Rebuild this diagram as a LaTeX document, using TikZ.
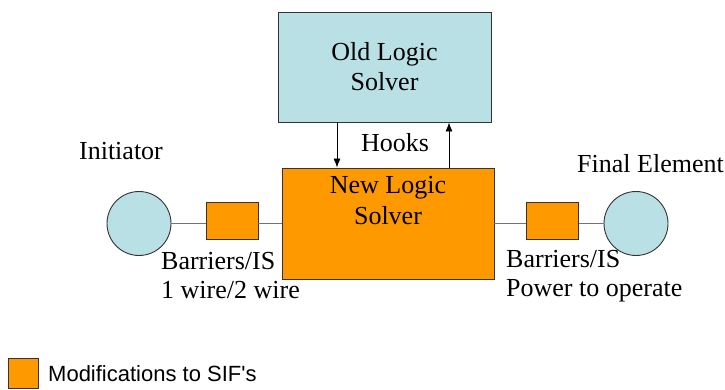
\documentclass[tikz,border=0pt]{standalone}
\usepackage{fontspec}
\setmainfont{Liberation Serif}
\setsansfont{Liberation Sans}
\usetikzlibrary{shapes,arrows,arrows.meta,positioning,calc}
\definecolor{solverblue}{RGB}{185,224,228}
\definecolor{modorange}{RGB}{255,153,0}
\tikzset{solver node/.style={rectangle,draw=black!80,line width=0.9pt,fill=solverblue,minimum width=213pt,minimum height=110pt,inner sep=0pt,align=center},
  new node/.style={rectangle,draw=black!80,line width=0.9pt,fill=modorange,minimum width=212pt,minimum height=111pt,inner sep=0pt},
  field node/.style={circle,draw=black!80,line width=0.9pt,fill=solverblue,minimum size=64pt,inner sep=0pt},
  barrier node/.style={rectangle,draw=black!80,line width=0.9pt,fill=modorange,minimum width=52pt,minimum height=37pt,inner sep=0pt},
  wire/.style={draw=black!55,line width=0.9pt},
  hook/.style={-{Latex[length=9pt,width=7pt]},line width=0.8pt},
  txt/.style={font=\fontsize{26}{29}\selectfont,inner sep=0pt,align=left},
}
\begin{document}
\begin{tikzpicture}[x=1pt,y=-1pt]
		\useasboundingbox (0,0) rectangle (725,390);
		\node[solver node,font=\fontsize{26}{30}\selectfont] (old) at (384.5,67) {Old Logic\\Solver};
		\node[new node] (new) at (388,223.5) {};
		\node[txt,font=\fontsize{26}{31}\selectfont,align=center,anchor=north] (newtxt) at ([yshift=-9pt]new.north) {New Logic\\Solver};
		\node[field node] (init) at (139,223.5) {};
		\node[barrier node] (barL) at (232,221) {};
		\node[barrier node] (barR) at (552.5,221) {};
		\node[field node] (final) at (636,223.5) {};
		
		% lines
		\path[wire]
		(init) -- (init -| barL.west)
		(init -| barL.east) -- (init -| new.west)
		(final -| new.east) -- (final -| barR.west)
		(final -| barR.east) -- (final)
		;
		
		% hooks
		\draw[hook] ([xshift=-47.5pt]old.south) -- ([xshift=-47.5pt]old.south |- new.north);
		\draw[hook] ([xshift=64.5pt]old.south |- new.north) -- ([xshift=64.5pt]old.south);
		\node[txt] (hooks) at (395,143) {Hooks};
		
		% labels
		\node[txt] (initlbl) at (121,151) {Initiator};
		\node[txt,anchor=west] (finallbl) at (577,164) {Final Element};
		\node[txt,anchor=north west] (barLlbl) at (161,252) {Barriers/IS\\1 wire/2 wire};
		\node[txt,anchor=north west] (barRlbl) at (506,250) {Barriers/IS\\Power to operate};
		
		% legend
		\node[barrier node,minimum width=30pt,minimum height=30pt] (legbox) at (23,373) {};
		\node[txt,font=\sffamily\fontsize{22}{26}\selectfont,anchor=west] (leglbl) at (48,374) {Modifications to SIF\textquotesingle s};
\end{tikzpicture}
\end{document}
